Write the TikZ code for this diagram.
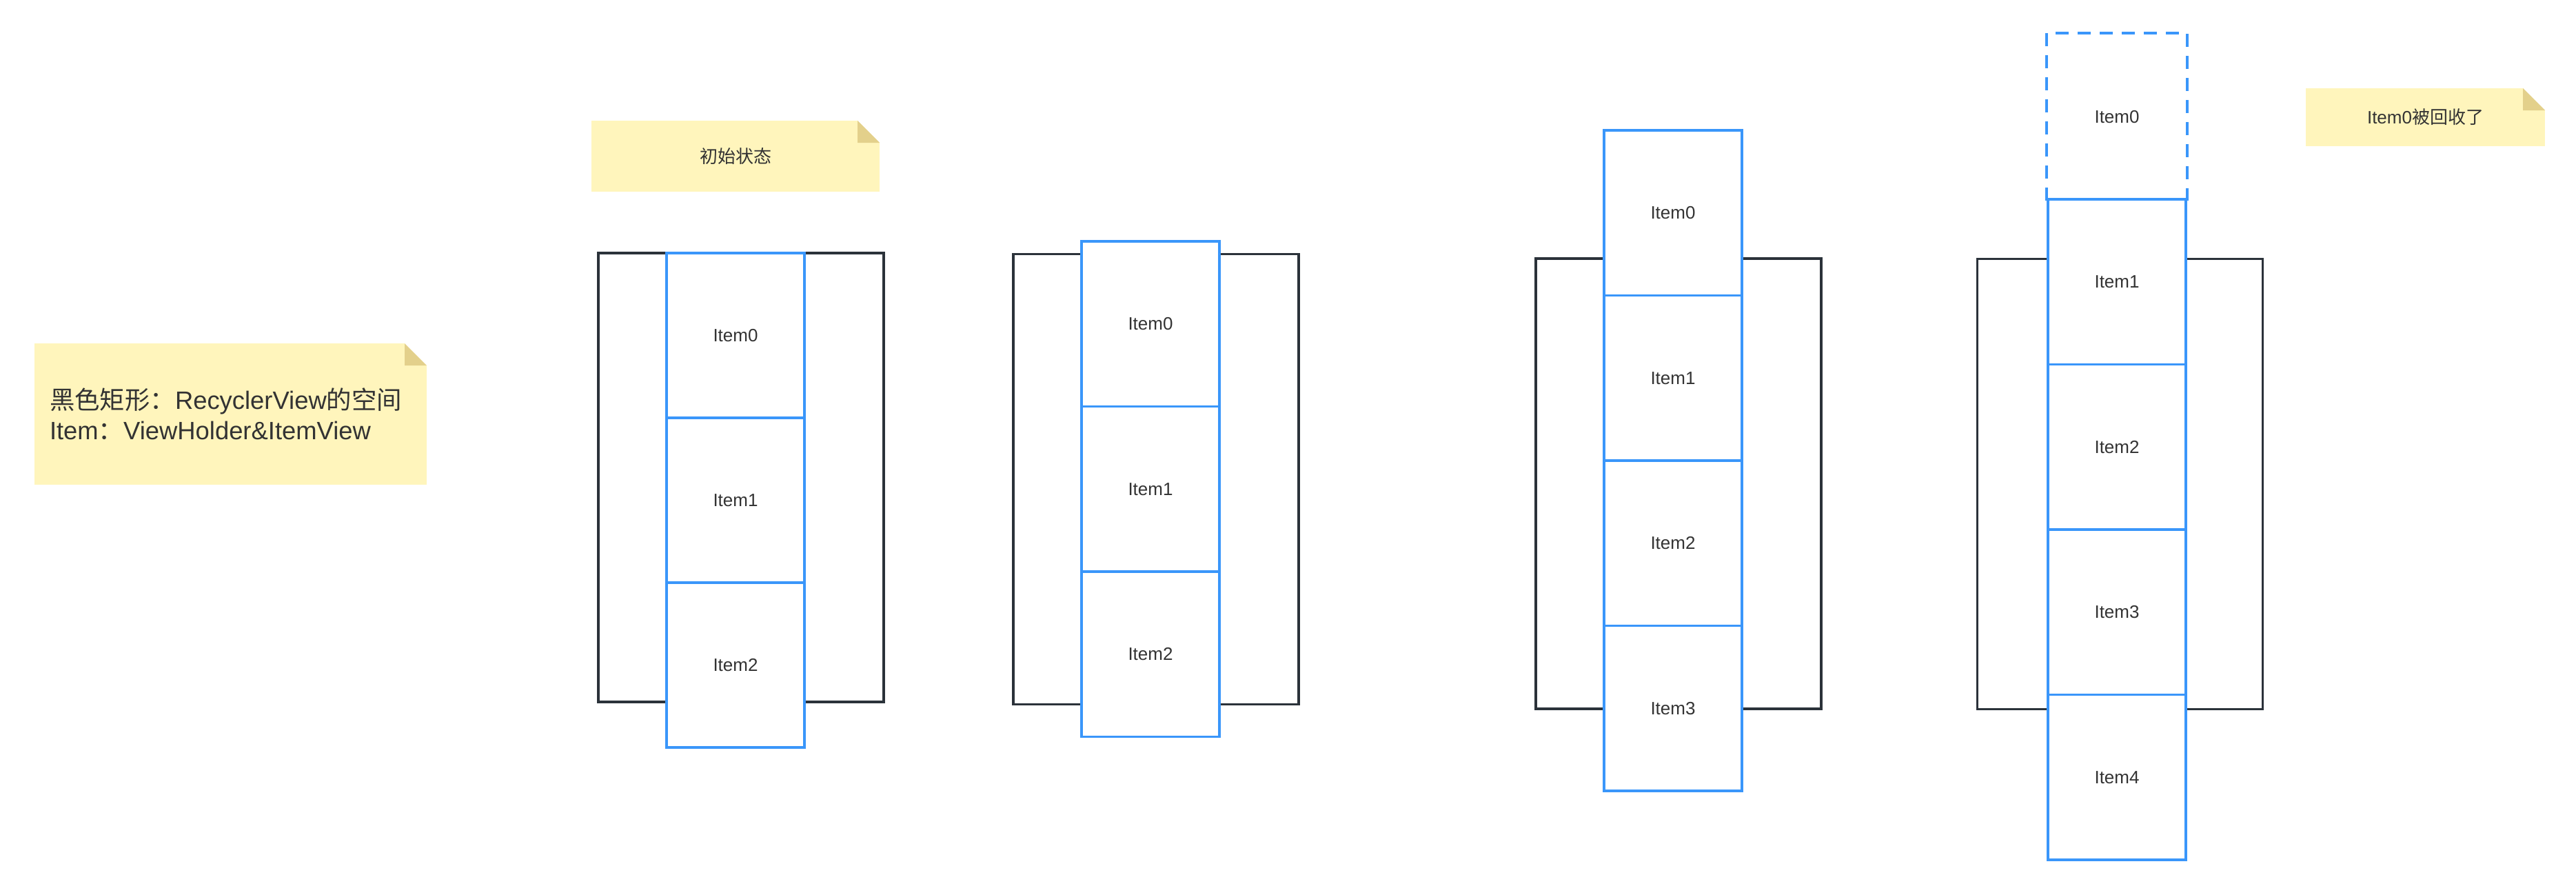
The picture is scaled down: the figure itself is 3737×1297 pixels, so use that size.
\documentclass[tikz,border=0pt]{standalone}
\usepackage{fontspec}
\setmainfont{Liberation Sans}
\newfontfamily\cjk{Noto Sans CJK SC}
\definecolor{itemblue}{RGB}{58,150,250}
\definecolor{framedark}{RGB}{43,50,58}
\definecolor{notefill}{RGB}{255,245,188}
\definecolor{foldfill}{RGB}{227,208,139}
\definecolor{textgray}{RGB}{51,51,51}
\tikzset{
  frame/.style={draw=framedark, line width=1.6pt, minimum width=207pt, minimum height=326.5pt, inner sep=0pt},
  item/.style={draw=itemblue, line width=1.8pt, fill=white, minimum width=100pt, minimum height=119.75pt, inner sep=0pt, text=textgray, font=\fontsize{13}{15}\selectfont},
  ghost/.style={item, draw=none, fill=none},
  ghostline/.style={draw=itemblue, line width=1.8pt, dash pattern=on 9.5pt off 6.5pt},
  note/.style={fill=notefill, inner sep=0pt, text=textgray,
    path picture={
      \fill[white] ([xshift=-16pt]path picture bounding box.north east) -- (path picture bounding box.north east) -- ([yshift=-16pt]path picture bounding box.north east) -- cycle;
      \fill[foldfill] ([xshift=-16pt]path picture bounding box.north east) -- ([xshift=-16pt,yshift=-16pt]path picture bounding box.north east) -- ([yshift=-16pt]path picture bounding box.north east) -- cycle;
    }},
}
\begin{document}
\begin{tikzpicture}[x=0.5pt,y=-0.5pt]
\useasboundingbox (0,0) rectangle (3737,1297);

% legend note
\node[note, minimum width=284.5pt, minimum height=102.5pt, text width=262.5pt, align=left, inner xsep=11pt,
      font=\fontsize{18.2}{22}\selectfont] (legend) at (334.5,600.5)
  {{\cjk 黑色矩形：}RecyclerView{\cjk 的空间}\\Item{\cjk ：}ViewHolder\&ItemView};

% notes
\node[note, minimum width=209pt, minimum height=51.5pt, font=\fontsize{13}{15}\cjk] (n1) at (1067,226.5) {初始状态};
\node[note, minimum width=173.5pt, minimum height=42pt, font=\fontsize{13}{15}\selectfont] (n4) at (3518.5,170) {Item0{\cjk 被回收了}};

% frames (RecyclerView space)
\node[frame, minimum height=325.5pt] (f1) at (1075,692.5) {};
\node[frame] (f2) at (1677,695) {};
\node[frame] (f3) at (2435,701.5) {};
\node[frame] (f4) at (3075.5,702) {};

% group 1
\node[item, minimum height=119.5pt] (a0) at (1067,486.5) {Item0};
\node[item, minimum height=119.5pt] (a1) at (1067,725.5) {Item1};
\node[item, minimum height=119.5pt] (a2) at (1067,964.5) {Item2};

% group 2
\node[item] (b0) at (1669,469.75) {Item0};
\node[item] (b1) at (1669,709.25) {Item1};
\node[item] (b2) at (1669,948.75) {Item2};

% group 3
\node[item] (c0) at (2427,308.75) {Item0};
\node[item] (c1) at (2427,548.25) {Item1};
\node[item] (c2) at (2427,787.75) {Item2};
\node[item] (c3) at (2427,1027.25) {Item3};

% group 4
\node[ghost] (d0) at (3071,169.25) {Item0};
\draw[ghostline] (d0.south west) -- (d0.north west) -- (d0.north east) -- (d0.south east);
\node[item] (d1) at (3071,408.75) {Item1};
\node[item] (d2) at (3071,648.25) {Item2};
\node[item] (d3) at (3071,887.75) {Item3};
\node[item] (d4) at (3071,1127.25) {Item4};
\end{tikzpicture}
\end{document}
